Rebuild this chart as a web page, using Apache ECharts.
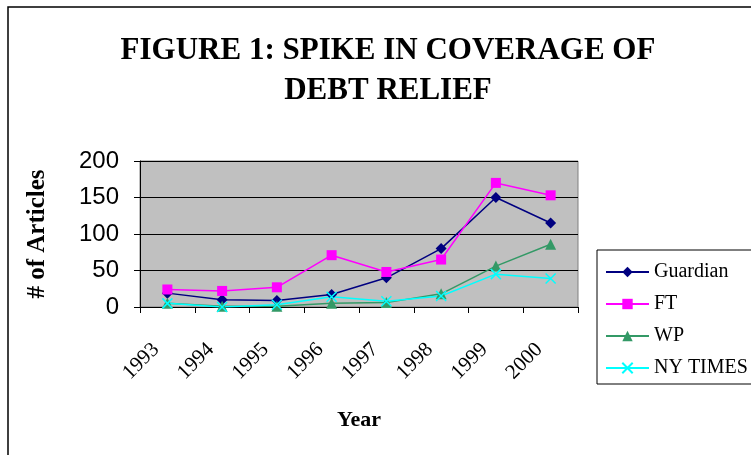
<!DOCTYPE html>
<html>
<head>
<meta charset="utf-8">
<script src="https://cdn.jsdelivr.net/npm/echarts@6/dist/echarts.min.js"></script>
<style>
  html,body{margin:0;padding:0;background:#fff;}
  #debt-chart{width:751px;height:455px;}
</style>
</head>
<body>
<div id="debt-chart"></div>
<script>
  // 年份 / 各报纸文章数
  var years = ['1993', '1994', '1995', '1996', '1997', '1998', '1999', '2000'];
  var guardian = [19, 10, 9, 17, 40, 80, 150, 115];
  var ft = [24, 22, 27, 71, 48, 65, 170, 153];
  var wp = [5, 1, 1, 5, 6, 18, 56, 86];
  var nyTimes = [5, 0, 3, 14, 8, 15, 45, 39];
  var yTicks = [0, 50, 100, 150, 200];

  var serif = '"Liberation Serif", "DejaVu Serif", serif';
  var sans = '"Liberation Sans", Arial, sans-serif';
  var xPath = 'path://M0,0 L10,10 M10,0 L0,10';

  var debtChart = echarts.init(document.getElementById('debt-chart'));

  function lineSeries(name, data, color, symbol, size) {
    return {
      name: name,
      type: 'line',
      data: data,
      symbol: symbol,
      symbolSize: size,
      showAllSymbol: true,
      animation: false,
      lineStyle: {color: color, width: 1.5},
      itemStyle: {color: color, borderColor: color, borderWidth: symbol === xPath ? 1.5 : 0}
    };
  }

  var debtOption = {
    backgroundColor: '#fff',
    title: {
      text: 'FIGURE 1: SPIKE IN COVERAGE OF\nDEBT RELIEF',
      left: 383,
      top: 26,
      textAlign: 'center',
      textStyle: {fontFamily: serif, fontWeight: 'bold', fontSize: 31, lineHeight: 40, color: '#000'}
    },
    legend: {
      orient: 'vertical',
      left: 597,
      top: 250,
      padding: [12, 8, 6, 8],
      itemGap: 12,
      itemWidth: 43,
      itemHeight: 13,
      borderColor: '#000',
      borderWidth: 1,
      textStyle: {fontFamily: serif, fontSize: 20, color: '#000'},
      data: ['Guardian', 'FT', 'WP', 'NY TIMES']
    },
    graphic: [{
      type: 'rect',
      shape: {x: 8, y: 7, width: 800, height: 500},
      style: {fill: 'none', stroke: '#000', lineWidth: 1.5},
      silent: true
    }],
    grid: {
      left: 140,
      right: 173,
      top: 161,
      bottom: 148,
      show: true,
      backgroundColor: '#c0c0c0',
      borderColor: '#808080',
      borderWidth: 1
    },
    xAxis: {
      type: 'category',
      data: years,
      boundaryGap: true,
      name: 'Year',
      nameLocation: 'middle',
      nameGap: 102,
      nameTextStyle: {fontFamily: serif, fontWeight: 'bold', fontSize: 22, color: '#000'},
      axisLine: {lineStyle: {color: '#000', width: 1}},
      axisTick: {show: true, length: 6, alignWithLabel: false, lineStyle: {color: '#000'}},
      axisLabel: {rotate: 45, margin: 28, padding: [0, 16, 0, 0], fontFamily: serif, fontSize: 21, color: '#000'}
    },
    yAxis: {
      type: 'value',
      min: yTicks[0],
      max: yTicks[yTicks.length - 1],
      interval: 50,
      name: '# of Articles',
      nameLocation: 'middle',
      nameGap: 90,
      nameTextStyle: {fontFamily: serif, fontWeight: 'bold', fontSize: 25, color: '#000'},
      axisLine: {show: true, lineStyle: {color: '#000', width: 1}},
      axisTick: {show: true, length: 6, lineStyle: {color: '#000'}},
      axisLabel: {margin: 21, fontFamily: sans, fontSize: 24, color: '#000'},
      splitLine: {show: true, lineStyle: {color: '#000', width: 1}}
    },
    series: [
      lineSeries('Guardian', guardian, '#000080', 'diamond', 11),
      lineSeries('FT', ft, '#ff00ff', 'rect', 10),
      lineSeries('WP', wp, '#339966', 'triangle', 11),
      lineSeries('NY TIMES', nyTimes, '#00ffff', xPath, 10)
    ]
  };

  debtOption && debtChart.setOption(debtOption);
</script>
</body>
</html>
